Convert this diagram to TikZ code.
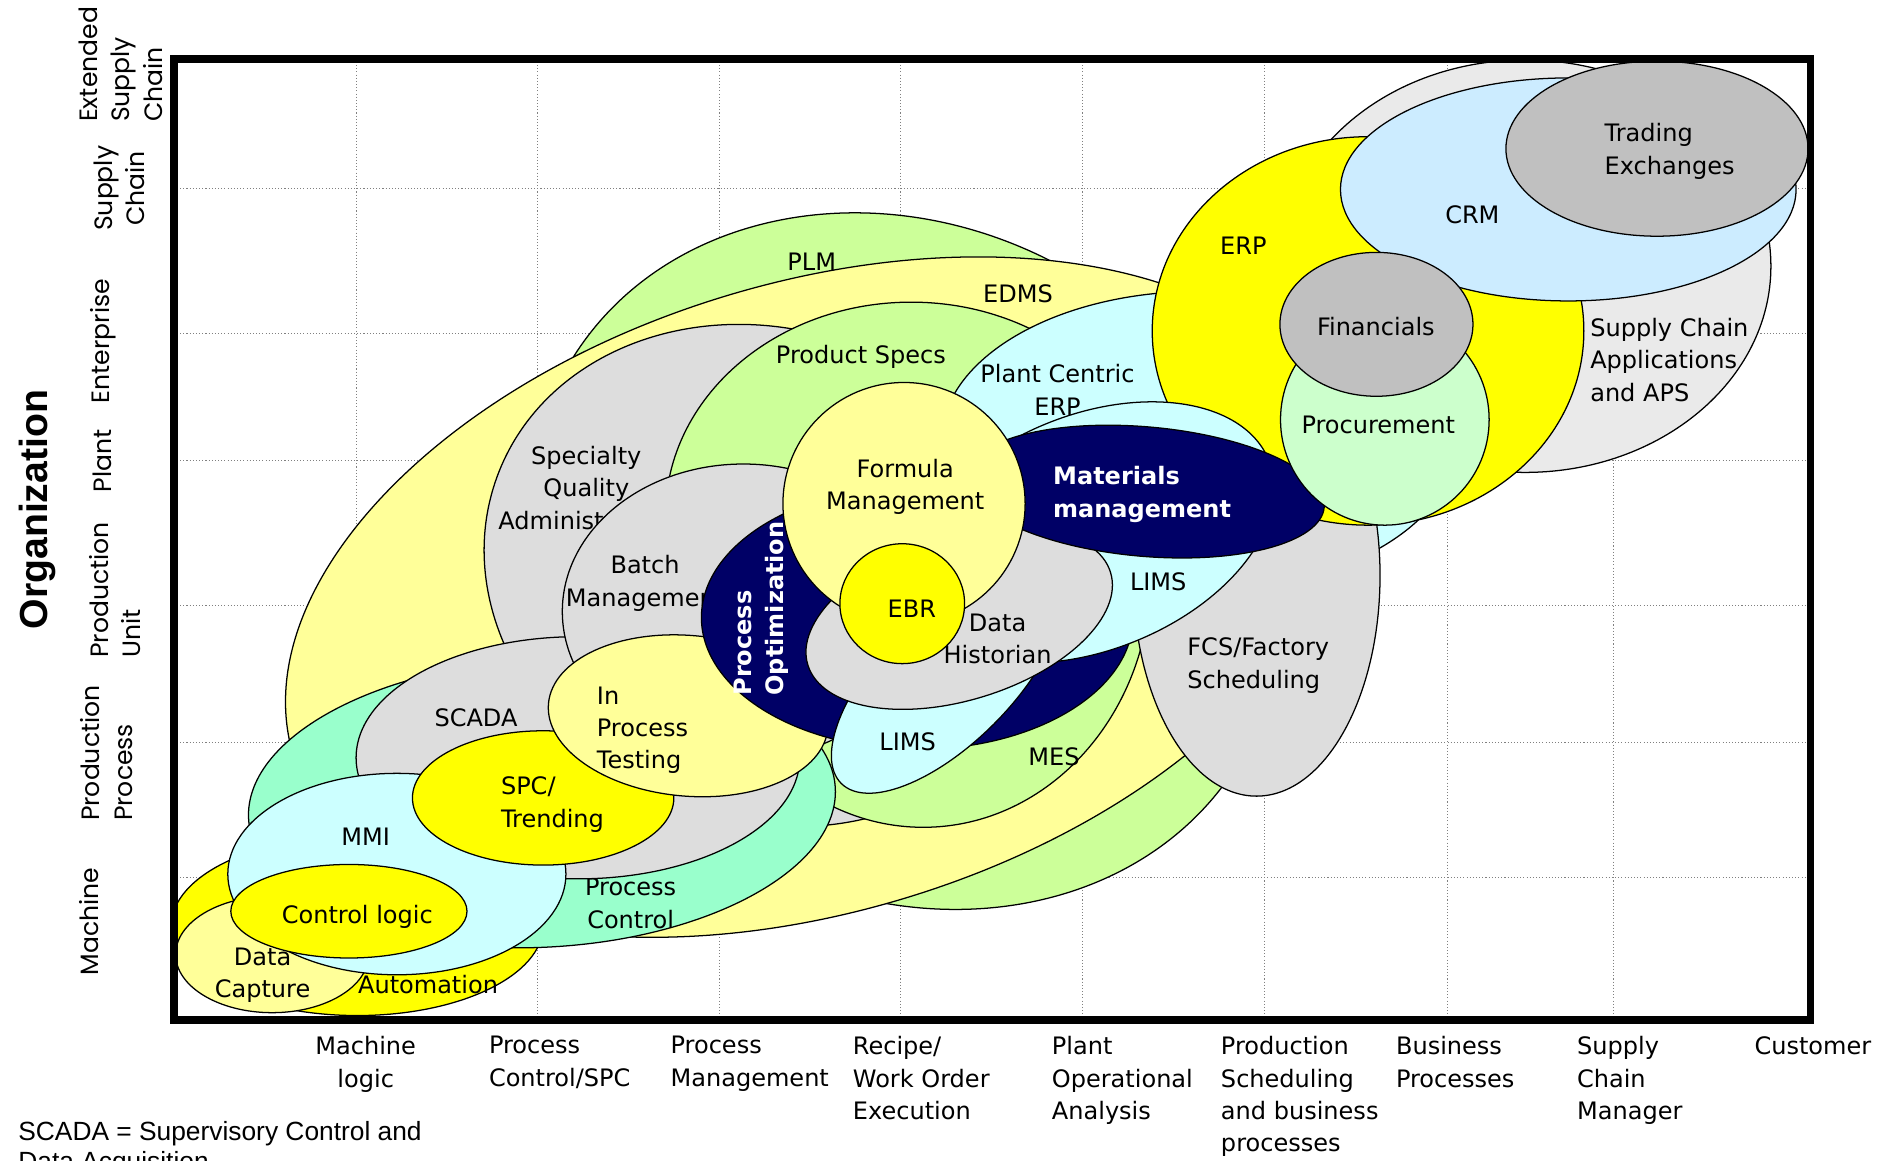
\documentclass[tikz,border=0pt]{standalone}
\usepackage{fontspec}
\setmainfont{DejaVu Sans}
\newfontfamily\axisfont{Poppins}
\newfontfamily\notefont{Liberation Sans}

\definecolor{plmgreen}{HTML}{CCFF99}
\definecolor{lightyellow}{HTML}{FFFF99}
\definecolor{brightyellow}{HTML}{FFFF00}
\definecolor{softgray}{HTML}{DDDDDD}
\definecolor{palegray}{HTML}{EAEAEA}
\definecolor{midgray}{HTML}{C0C0C0}
\definecolor{palecyan}{HTML}{CCFFFF}
\definecolor{crmblue}{HTML}{CCECFF}
\definecolor{navyblue}{HTML}{000066}
\definecolor{aquagreen}{HTML}{99FFCC}
\definecolor{mintgreen}{HTML}{CCFFCC}

\tikzset{
    blob/.style={draw=black, line width=0.6pt},
    lbl/.style={font=\fontsize{11.4}{15.4}\selectfont, inner sep=0pt, align=center},
    wlbl/.style={lbl, text=white, font=\fontsize{11.4}{15.4}\selectfont\bfseries},
    axislbl/.style={font=\axisfont\fontsize{11.9}{15.4}\selectfont, inner sep=0pt, rotate=90, align=center},
    gridline/.style={gray, densely dotted, line width=0.5pt},
}

\begin{document}
\begin{tikzpicture}[x=0.2mm, y=-0.2mm]
    \useasboundingbox (0,0) rectangle (1568,968.3);

    % Grid
    \foreach \gx in {297,448,600,751,903,1055,1207,1346}
        \draw[gridline] (\gx,49) -- (\gx,851);
    \foreach \gy in {157,278,384,505,619,732}
        \draw[gridline] (145,\gy) -- (1510,\gy);

    % PLM
    \filldraw[blob, fill=plmgreen, rotate around={-30:(755,468)}] (755,468) ellipse [x radius=325, y radius=278];
    \node[lbl] (plm) at (677,218.5) {PLM};

    % EDMS
    \filldraw[blob, fill=lightyellow, rotate around={17:(680,498)}] (680,498) ellipse [x radius=455, y radius=262];
    \node[lbl] (edms) at (849,244.7) {EDMS};

    % Automation and data capture
    \filldraw[blob, fill=brightyellow] (298,772) ellipse [x radius=155, y radius=75];
    \node[lbl] (automation) at (357,821.5) {Automation};
    \filldraw[blob, fill=lightyellow] (227,796) ellipse [x radius=80.5, y radius=48.6];
    \node[lbl] (datacapture) at (219,813.6) {Data\\Capture};

    % Specialty quality
    \filldraw[blob, fill=softgray, rotate around={-20:(640,480)}] (640,480) ellipse [x radius=240, y radius=205];
    \node[lbl] (specialty) at (489,406.7) {Specialty\\Quality\\Administration};

    % MES
    \filldraw[blob, fill=plmgreen] (770,478) ellipse [x radius=190, y radius=212];
    \node[lbl] (mes) at (879,631) {MES};

    % Product specs
    \filldraw[blob, fill=plmgreen] (760,430) ellipse [x radius=205, y radius=178];
    \node[lbl] (productspecs) at (718,298) {Product Specs};

    % Process control
    \filldraw[blob, fill=aquagreen, rotate around={3:(452,670)}] (452,670) ellipse [x radius=245, y radius=120];
    \node[lbl] (processcontrol) at (526,753.5) {Process\\Control};

    % SCADA
    \filldraw[blob, fill=softgray] (482,632) ellipse [x radius=185, y radius=101];
    \node[lbl] (scada) at (397,599) {SCADA};

    % Batch
    \filldraw[blob, fill=softgray] (620,510) ellipse [x radius=151, y radius=123];
    \node[lbl] (batch) at (538,486.5) {Batch\\Management};

    % MMI
    \filldraw[blob, fill=palecyan] (331,729) ellipse [x radius=141, y radius=84];
    \node[lbl] (mmi) at (305,698) {MMI};

    % SPC
    \filldraw[blob, fill=brightyellow] (453,665.5) ellipse [x radius=109, y radius=56];
    \node[lbl, anchor=west, align=left] (spc) at (417.5,671) {SPC/\\Trending};

    % In process testing
    \filldraw[blob, fill=lightyellow, rotate around={-5:(574,597)}] (574,597) ellipse [x radius=117, y radius=67];
    \node[lbl, anchor=west, align=left] (ipt) at (497.5,609) {In\\Process\\Testing};

    % Control logic
    \filldraw[blob, fill=brightyellow] (291,760) ellipse [x radius=98.5, y radius=39];
    \node[lbl] (controllogic) at (298,765) {Control logic};

    % Plant centric ERP
    \filldraw[blob, fill=palecyan] (1000,368) ellipse [x radius=215, y radius=125];
    \node[lbl] (pcerp) at (882,325) {Plant Centric\\ERP};

    % FCS
    \filldraw[blob, fill=softgray] (1048,480) ellipse [x radius=103, y radius=184];
    \node[lbl, anchor=west, align=left] (fcs) at (990,555) {FCS/Factory\\Scheduling};

    % Supply chain applications
    \filldraw[blob, fill=palegray] (1272,222) ellipse [x radius=205, y radius=172];
    \node[lbl, anchor=west, align=left] (sca) at (1326,300) {Supply Chain\\Applications\\and APS};

    % ERP
    \filldraw[blob, fill=brightyellow] (1141,276) ellipse [x radius=180, y radius=162];
    \node[lbl] (erp) at (1037,205) {ERP};

    % CRM
    \filldraw[blob, fill=crmblue] (1308,158) ellipse [x radius=190, y radius=93];
    \node[lbl] (crm) at (1228,179) {CRM};

    % Trading
    \filldraw[blob, fill=midgray] (1382,124) ellipse [x radius=126, y radius=73];
    \node[lbl, anchor=west, align=left] (trading) at (1338,126.4) {Trading\\Exchanges};

    % Process optimization
    \filldraw[blob, fill=navyblue] (765,515) ellipse [x radius=180, y radius=110];
    \node[wlbl, rotate=90, align=left] (procopt) at (635,507.5) {Process\\Optimization};

    % LIMS
    \filldraw[blob, fill=palecyan, rotate around={22:(910,444)}] (910,444) ellipse [x radius=160, y radius=98];
    \node[lbl] (limsupper) at (966,485) {LIMS};
    \filldraw[blob, fill=palecyan, rotate around={45:(790,565)}] (790,565) ellipse [x radius=125, y radius=55];
    \node[lbl] (limslower) at (757,619) {LIMS};

    % Data historian
    \filldraw[blob, fill=softgray, rotate around={17:(800,516)}] (800,516) ellipse [x radius=132, y radius=68];
    \node[lbl] (historian) at (832,533) {Data\\Historian};

    % Materials
    \filldraw[blob, fill=navyblue, rotate around={-5:(955,410)}] (955,410) ellipse [x radius=150, y radius=54];
    \node[wlbl, anchor=west, align=left] (materials) at (878,412.3) {Materials\\management};

    % Formula and EBR
    \filldraw[blob, fill=lightyellow] (754,420) ellipse [x radius=101, y radius=101];
    \node[lbl] (formula) at (755,406) {Formula\\Management};
    \filldraw[blob, fill=brightyellow] (752.5,503.5) ellipse [x radius=52, y radius=50];
    \node[lbl] (ebr) at (760.5,508) {EBR};

    % Procurement and financials
    \filldraw[blob, fill=mintgreen] (1155,350) ellipse [x radius=87, y radius=88];
    \node[lbl] (procurement) at (1149.5,354) {Procurement};
    \filldraw[blob, fill=midgray] (1148,270.5) ellipse [x radius=80.5, y radius=60];
    \node[lbl] (financials) at (1147.5,272) {Financials};

    % Frame
    \draw[line width=1.3mm] (145,49) rectangle (1510,851);

    % Organization axis
    \node[font=\notefont\bfseries\fontsize{18.6}{22}\selectfont, rotate=90, inner sep=0pt] (orgtitle) at (31,425) {Organization};
    \node[axislbl, anchor=west, align=left] (extsc) at (100.5,102) {Extended\\Supply\\Chain};
    \node[axislbl] (supplychain) at (99.5,157) {Supply\\Chain};
    \node[axislbl] (enterprise) at (86.5,284.5) {Enterprise};
    \node[axislbl] (plant) at (85,384.5) {Plant};
    \node[axislbl, anchor=west, align=left] (produnit) at (96,549) {Production\\Unit};
    \node[axislbl, anchor=west, align=left] (prodproc) at (89,685) {Production\\Process};
    \node[axislbl] (machine) at (74,768.5) {Machine};

    % Function axis
    \node[lbl, anchor=north] (machinelogic) at (305,864) {Machine\\logic};
    \node[lbl, anchor=north west, align=left] (pcspc) at (407.5,864) {Process\\Control/SPC};
    \node[lbl, anchor=north west, align=left] (procmgmt) at (559,864) {Process\\Management};
    \node[lbl, anchor=north west, align=left] (recipe) at (711,864) {Recipe/\\Work Order\\Execution};
    \node[lbl, anchor=north west, align=left] (plantop) at (877,864) {Plant\\Operational\\Analysis};
    \node[lbl, anchor=north west, align=left] (prodsched) at (1018,864) {Production\\Scheduling\\and business\\processes};
    \node[lbl, anchor=north west, align=left] (busproc) at (1164,864) {Business\\Processes};
    \node[lbl, anchor=north west, align=left] (scmgr) at (1315,864) {Supply\\Chain\\Manager};
    \node[lbl, anchor=north west, align=left] (customer) at (1463,864) {Customer};

    % Note
    \node[font=\notefont\fontsize{12.5}{14.2}\selectfont, anchor=north west, align=left, inner sep=0pt] (scadanote) at (15,935) {SCADA = Supervisory Control and\\Data Acquisition};
\end{tikzpicture}
\end{document}
